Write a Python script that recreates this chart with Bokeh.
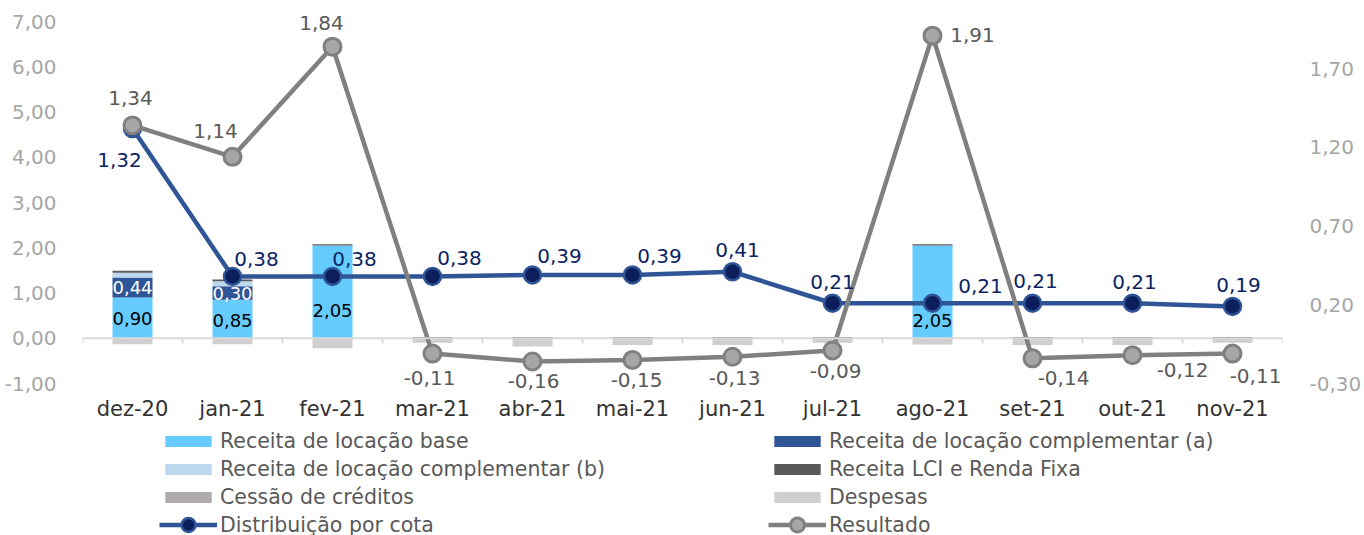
from bokeh.plotting import figure
from bokeh.models import (ColumnDataSource, Range1d, LinearAxis, FixedTicker,
                          CustomJSTickFormatter, Legend, LegendItem, Span, LabelSet)
from bokeh.core.properties import value
from bokeh.embed import file_html
from bokeh.resources import INLINE

# ---------------- data ----------------
months = ["dez-20", "jan-21", "fev-21", "mar-21", "abr-21", "mai-21",
          "jun-21", "jul-21", "ago-21", "set-21", "out-21", "nov-21"]
receita_base = [0.90, 0.85, 2.05, 0.0, 0.0, 0.0, 0.0, 0.0, 2.05, 0.0, 0.0, 0.0]
receita_comp_a = [0.44, 0.30, 0.0, 0.0, 0.0, 0.0, 0.0, 0.0, 0.0, 0.0, 0.0, 0.0]
receita_comp_b = [0.11, 0.11, 0.0, 0.0, 0.0, 0.0, 0.0, 0.0, 0.0, 0.0, 0.0, 0.0]
receita_lci = [0.04, 0.04, 0.03, 0.03, 0.03, 0.03, 0.03, 0.03, 0.03, 0.03, 0.03, 0.03]
cessao_creditos = [0.0, 0.0, 0.0, 0.0, 0.0, 0.0, 0.0, 0.0, 0.0, 0.0, 0.0, 0.0]
despesas = [-0.13, -0.13, -0.22, -0.10, -0.18, -0.15, -0.15, -0.10, -0.14, -0.15, -0.15, -0.10]
distribuicao = [1.32, 0.38, 0.38, 0.38, 0.39, 0.39, 0.41, 0.21, 0.21, 0.21, 0.21, 0.19]
resultado = [1.34, 1.14, 1.84, -0.11, -0.16, -0.15, -0.13, -0.09, 1.91, -0.14, -0.12, -0.11]
left_ticks = [-1, 0, 1, 2, 3, 4, 5, 6, 7]
right_ticks = [-0.30, 0.20, 0.70, 1.20, 1.70]
left_limits = (-1.0, 7.0)
right_limits = (-0.30, 2.00)

# ---------------- label placement (screen px, +up) ----------------
dist_dx = [-13, 24, 22, 27, 27, 27, 5, 0, 48, 3, 2, 6]
dist_dy = [-31, 17, 17, 18, 19, 19, 22, 21, 17, 22, 21, 21]
res_dx = [-2, -17, -11, -3, 1, 4, 2, 3, 40, 31, 50, 23]
res_dy = [27, 26, 24, -24, -20, -20, -21, -21, 1, -20, -15, -22]
base_dy = [-1, -1, -19, 0, 0, 0, 0, 0, -29, 0, 0, 0]

FONT = "DejaVu Sans"
W, H = 1364, 535
PLOT_TOP, PLOT_BOTTOM = 21, 383          # pixel rows of the value-axis limits
PLOT_LEFT, PLOT_RIGHT = 82, 1286

def fmt(v):
    return f"{v:.2f}".replace(".", ",")

# extend the ranges so the margins (labels, legend) lie inside the frame
lpx = (PLOT_BOTTOM - PLOT_TOP) / (left_limits[1] - left_limits[0])
rpx = (PLOT_BOTTOM - PLOT_TOP) / (right_limits[1] - right_limits[0])
left_range = Range1d(left_limits[0] - (H - PLOT_BOTTOM) / lpx,
                     left_limits[1] + PLOT_TOP / lpx)
right_range = Range1d(right_limits[0] - (H - PLOT_BOTTOM) / rpx,
                      right_limits[1] + PLOT_TOP / rpx)

x = list(range(len(months)))
src = ColumnDataSource(dict(
    x=x, base=receita_base, comp_a=receita_comp_a, comp_b=receita_comp_b,
    lci=receita_lci, cessao=cessao_creditos, despesas=despesas,
    dist=distribuicao, res=resultado,
    dist_txt=[fmt(v) for v in distribuicao], res_txt=[fmt(v) for v in resultado],
    dist_dx=dist_dx, dist_dy=dist_dy, res_dx=res_dx, res_dy=res_dy,
))

p = figure(width=W, height=H, output_backend="svg", toolbar_location=None,
           x_range=Range1d(-0.5, len(months) - 0.5), y_range=left_range,
           min_border_left=PLOT_LEFT, min_border_right=W - PLOT_RIGHT,
           min_border_top=0, min_border_bottom=0)
p.extra_y_ranges = {"right": right_range}
p.outline_line_color = None
p.xgrid.grid_line_color = None
p.ygrid.grid_line_color = None
p.background_fill_color = "white"
p.xaxis.visible = False

num_fmt = CustomJSTickFormatter(code="return tick.toFixed(2).replace('.', ',');")

# left axis
yax = p.yaxis[0]
yax.ticker = FixedTicker(ticks=left_ticks)
yax.formatter = num_fmt
yax.axis_line_color = None
yax.major_tick_line_color = None
yax.minor_tick_line_color = None
yax.major_label_standoff = 20
yax.major_label_text_font = FONT
yax.major_label_text_font_size = "20px"
yax.major_label_text_color = "#A6A6A6"

# right axis
rax = LinearAxis(y_range_name="right", ticker=FixedTicker(ticks=right_ticks),
                 formatter=num_fmt)
rax.axis_line_color = None
rax.major_tick_line_color = None
rax.minor_tick_line_color = None
rax.major_label_standoff = 21
rax.major_label_text_font = FONT
rax.major_label_text_font_size = "20px"
rax.major_label_text_color = "#A6A6A6"
p.add_layout(rax, "right")

# bars
stack_cols = ["base", "comp_a", "comp_b", "lci", "cessao"]
stack_colors = ["#66CCFF", "#2F5597", "#BDD7EE", "#595959", "#AFABAB"]
bars = p.vbar_stack(stack_cols, x="x", width=0.4, color=stack_colors,
                    line_color=None, source=src)
desp = p.vbar(x="x", top="despesas", bottom=0, width=0.4, color="#D0CECE",
              line_color=None, source=src)

# category axis at zero with tick marks between categories
p.add_layout(Span(location=0, dimension="width", line_color="#D9D9D9", line_width=2))
bounds = [i - 0.5 for i in range(len(months) + 1)]
p.segment(x0=bounds, x1=bounds, y0=[0] * len(bounds), y1=[-5 / lpx] * len(bounds),
          line_color="#D9D9D9", line_width=2)

# category labels beneath the value-axis minimum
cat_src = ColumnDataSource(dict(x=x, y=[left_limits[0]] * len(x), t=months))
p.add_layout(LabelSet(x="x", y="y", text="t", y_offset=-25, source=cat_src,
                      text_align="center", text_baseline="middle",
                      text_font=value(FONT), text_font_size="21px",
                      text_color="#333333"))

# lines
dline = p.line("x", "dist", y_range_name="right", source=src, line_color="#2F5597",
               line_width=4.5)
dpts = p.scatter("x", "dist", y_range_name="right", source=src, size=17,
                 fill_color="#0C1F5C", line_color="#2F5597", line_width=2.5)
rline = p.line("x", "res", y_range_name="right", source=src, line_color="#808080",
               line_width=4.5)
rpts = p.scatter("x", "res", y_range_name="right", source=src, size=17,
                 fill_color="#A6A6A6", line_color="#808080", line_width=3)

LBL = "20px"
BAR_LBL = "18px"
# bar labels
bl = [i for i, v in enumerate(receita_base) if v > 0]
base_src = ColumnDataSource(dict(
    x=[x[i] for i in bl], y=[receita_base[i] / 2 for i in bl],
    t=[fmt(receita_base[i]) for i in bl], dy=[base_dy[i] for i in bl]))
p.add_layout(LabelSet(x="x", y="y", text="t", y_offset="dy", source=base_src,
                      text_align="center", text_baseline="middle",
                      text_font=value(FONT), text_font_size=BAR_LBL, text_color="black"))
al = [i for i, v in enumerate(receita_comp_a) if v > 0]
a_src = ColumnDataSource(dict(
    x=[x[i] for i in al], y=[receita_base[i] + receita_comp_a[i] / 2 for i in al],
    t=[fmt(receita_comp_a[i]) for i in al]))
p.add_layout(LabelSet(x="x", y="y", text="t", source=a_src,
                      text_align="center", text_baseline="middle",
                      text_font=value(FONT), text_font_size=BAR_LBL, text_color="white"))

# line labels
p.add_layout(LabelSet(x="x", y="dist", text="dist_txt", x_offset="dist_dx",
                      y_offset="dist_dy", y_range_name="right", source=src,
                      text_align="center", text_baseline="middle",
                      text_font=value(FONT), text_font_size=LBL, text_color="#0C2463"))
p.add_layout(LabelSet(x="x", y="res", text="res_txt", x_offset="res_dx",
                      y_offset="res_dy", y_range_name="right", source=src,
                      text_align="center", text_baseline="middle",
                      text_font=value(FONT), text_font_size=LBL, text_color="#595959"))

# legends: bars (3 rows x 2 cols) and lines (1 row x 2 cols)
legend_style = dict(glyph_width=58, label_standoff=3, label_width=544,
                    label_height=24, spacing=4, padding=0, margin=0,
                    label_text_font=FONT, label_text_font_size="20.5px",
                    label_text_color="#595959", border_line_color=None,
                    background_fill_alpha=0)
bar_items = [
    LegendItem(label="Receita de locação base", renderers=[bars[0]]),
    LegendItem(label="Receita de locação complementar (b)", renderers=[bars[2]]),
    LegendItem(label="Cessão de créditos", renderers=[bars[4]]),
    LegendItem(label="Receita de locação complementar (a)", renderers=[bars[1]]),
    LegendItem(label="Receita LCI e Renda Fixa", renderers=[bars[3]]),
    LegendItem(label="Despesas", renderers=[desp]),
]
line_items = [
    LegendItem(label="Distribuição por cota", renderers=[dline, dpts]),
    LegendItem(label="Resultado", renderers=[rline, rpts]),
]
leg_bars = Legend(items=bar_items, ncols=2, location=(77, 26), glyph_height=14,
                  **legend_style)
leg_lines = Legend(items=line_items, ncols=2, location=(77, -7), glyph_height=35,
                   **legend_style)
p.add_layout(leg_bars)
p.add_layout(leg_lines)

open("out.html", "w").write(file_html(p, INLINE))
